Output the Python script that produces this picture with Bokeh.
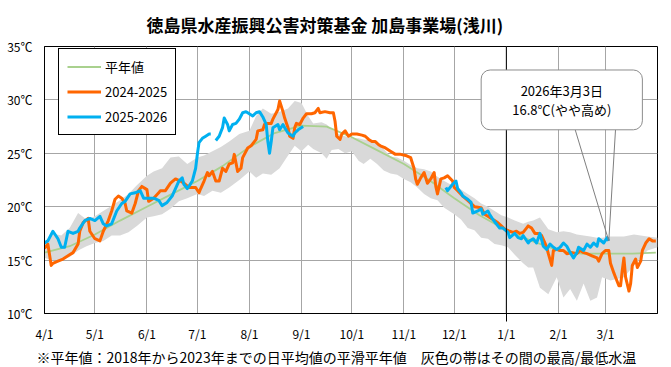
from bokeh.plotting import figure
from bokeh.models import (Range1d, FixedTicker, PrintfTickFormatter, Span, BoxAnnotation,
                          Legend, LegendItem, Title, Label)
from bokeh.embed import file_html
from bokeh.resources import INLINE

nan = float("nan")
JP = "Noto Sans CJK JP"

# ---- axis data (day offsets from 4/1) ----
month_days = [0, 30, 61, 91, 122, 153, 183, 214, 244, 275, 306, 334]
month_labels = ["4/1", "5/1", "6/1", "7/1", "8/1", "9/1", "10/1", "11/1", "12/1", "1/1", "2/1", "3/1"]
year_boundary_day = 275
y_ticks = [10, 15, 20, 25, 30, 35]

# ---- 平年値 (smoothed normal) ----
normal_days = [0, 15, 30, 45, 61, 76, 91, 106, 122, 137, 153, 168, 183, 198, 214, 229, 244,
               259, 275, 290, 306, 320, 334, 350, 364]
normal_temps = [15.7, 16.3, 17.4, 18.7, 20.0, 21.2, 22.4, 23.8, 25.6, 26.9, 27.6, 27.5, 26.5,
                25.3, 24.0, 22.5, 20.8, 19.2, 17.8, 16.8, 15.9, 15.6, 15.6, 15.6, 15.7]

# ---- min/max band 2018-2023 ----
band_days = [0, 5, 10, 15, 20, 25, 30, 35, 40, 45, 50, 55, 61, 65, 70, 75, 80, 85, 91, 95, 100,
             105, 110, 116, 122, 126, 130, 135, 140, 145, 149, 153, 157, 160, 165, 168, 171, 175,
             179, 183, 187, 190, 194, 198, 202, 206, 210, 214, 218, 222, 226, 230, 234, 238, 244,
             248, 252, 256, 260, 264, 268, 272, 276, 280, 285, 288, 291, 295, 300, 305, 309, 313,
             317, 321, 325, 329, 332, 337, 345, 351, 359, 365]
band_high = [16.6, 17.5, 17.3, 18.0, 19.4, 18.8, 19.1, 19.6, 20.1, 20.6, 21.2, 22.0, 22.9, 23.3,
             23.6, 24.6, 24.7, 24.0, 24.6, 24.8, 25.2, 25.6, 26.1, 26.8, 27.1, 28.5, 29.2, 28.7,
             28.9, 29.2, 29.9, 29.7, 28.5, 27.8, 27.9, 27.7, 27.3, 26.8, 26.6, 26.4, 26.4, 26.3,
             26.2, 26.1, 25.4, 24.7, 24.6, 24.3, 23.9, 23.6, 23.5, 23.3, 22.8, 22.4, 21.9, 21.6,
             21.2, 20.8, 20.3, 20.0, 19.6, 19.2, 19.0, 18.7, 18.4, 18.6, 18.7, 19.0, 17.9, 17.6,
             17.7, 17.6, 17.4, 17.3, 17.2, 17.1, 17.1, 17.2, 17.2, 17.4, 17.2, 17.1]
band_low = [15.2, 15.0, 15.0, 15.3, 15.9, 16.3, 16.6, 16.8, 17.3, 17.3, 17.6, 18.2, 19.0, 19.1,
            19.3, 19.8, 20.5, 20.8, 21.2, 21.0, 21.5, 21.3, 21.8, 22.5, 23.3, 22.7, 23.1, 23.0,
            23.6, 24.8, 25.7, 25.2, 25.8, 25.4, 25.0, 24.5, 25.3, 25.4, 25.0, 25.2, 24.3, 24.0,
            24.5, 24.0, 23.4, 23.1, 23.0, 22.6, 22.3, 21.8, 21.2, 20.8, 20.6, 19.9, 19.3, 18.8,
            18.0, 17.8, 17.1, 17.0, 16.5, 16.4, 16.2, 15.5, 14.7, 14.3, 14.3, 12.4, 11.8, 13.4,
            11.5, 12.3, 11.2, 12.8, 11.2, 11.5, 13.4, 13.1, 13.4, 14.5, 15.9, 16.2]

# ---- 2024-2025 ----
o_days = [0, 2, 4, 5, 8, 11, 14, 17, 20, 21, 23, 26, 27, 30, 33, 35, 38, 40, 42, 44, 46, 48, 49,
          52, 54, 56, 58, 61, 62, 65, 68, 69, 72, 75, 78, 81, 83, 86, 88, 90, 92, 93, 95, 97, 98,
          100, 102, 104, 106, 108, 110, 112, 113, 114, 115, 117, 118, 121, 123, 126, 127, 130,
          131, 133, 135, 136, 139, 140, 142, 143, 145, 146, 148, 149, 150, 152, 154, 156, 159,
          161, 163, 164, 167, 170, 172, 173, 174, 176, 177, 179, 181, 183, 186, 189, 191, 193,
          195, 197, 199, 200, 203, 206, 209, 212, 215, 218, 220, 221, 222, 224, 226, 227, 228,
          230, 232, 233, 234, 235, 236, 238, 240, 243, 244, 246, 249, 252, 256, 260, 262, 264,
          266, 268, 270, 272, 274, 277, 279, 281, 283, 285, 287, 288, 290, 292, 294, 296, 298,
          299, 300, 302, 303, 305, 307, 309, 311, 314, 317, 319, 321, 323, 326, 329, 330, 332,
          334, 336, 337, 339, 340, 342, 343, 344, 345, 346, 348, 349, 350, 352, 353, 355, 356,
          358, 360, 362, 364]
o_temps = [16.1, 16.5, 14.5, 14.7, 14.9, 15.1, 15.4, 15.7, 16.5, 17.7, 18.5, 18.9, 17.7, 17.0,
           16.8, 17.7, 18.7, 19.6, 20.7, 21.0, 20.8, 20.3, 19.6, 19.4, 20.3, 21.5, 21.9, 21.6,
           20.5, 20.8, 21.3, 21.5, 21.5, 22.2, 22.6, 22.4, 22.2, 21.8, 21.8, 21.8, 21.3, 21.7,
           22.4, 23.2, 22.9, 23.3, 22.4, 22.4, 23.6, 23.3, 24.0, 24.1, 24.9, 24.1, 23.3, 23.6,
           24.6, 25.5, 25.7, 26.3, 27.1, 27.2, 27.7, 27.8, 27.8, 28.2, 29.1, 29.9, 28.9, 28.3,
           27.4, 26.6, 26.4, 27.4, 27.8, 27.7, 28.3, 28.7, 28.7, 28.8, 29.2, 28.8, 28.9, 28.8,
           28.8, 28.0, 26.6, 26.3, 26.8, 27.1, 26.6, 26.8, 26.8, 26.7, 26.6, 26.3, 26.1, 26.1,
           25.8, 25.7, 25.5, 25.2, 24.9, 24.9, 24.8, 24.6, 23.6, 22.6, 22.1, 22.7, 23.2, 22.7,
           22.2, 22.6, 23.2, 21.9, 21.2, 21.9, 22.6, 22.7, 22.9, 22.4, 21.8, 21.5, 21.0, 20.6,
           20.0, 19.9, 19.3, 19.1, 18.9, 18.7, 18.5, 18.2, 17.9, 17.7, 17.6, 17.7, 17.5, 17.6,
           18.0, 18.2, 18.0, 17.5, 17.5, 17.3, 16.6, 16.2, 15.6, 14.5, 15.9, 16.0, 15.9, 15.9,
           15.6, 15.7, 15.6, 15.9, 15.7, 15.6, 15.4, 15.2, 14.9, 15.6, 15.9, 15.9, 14.7, 13.8,
           13.4, 12.6, 12.6, 14.0, 15.2, 13.4, 12.1, 12.8, 14.5, 15.1, 14.3, 14.9, 15.9, 16.6,
           17.0, 16.8, 16.8]

# ---- 2025-2026 (nan = no data) ----
b_days = [0, 2, 5, 8, 10, 12, 14, 17, 20, 21, 24, 27, 30, 33, 35, 37, 40, 43, 46, 48, 51, 54, 57,
          59, 61, 63, 65, 68, 70, 73, 76, 80, 82, 83, 85, 86, 88, 90, 91, 92, 94, 96, 98, 99, 100,
          102, 104, 106, 107, 109, 110, 112, 114, 116, 118, 120, 121, 124, 126, 128, 130, 132,
          133, 134, 135, 136, 139, 140, 142, 143, 145, 148, 149, 151, 154, 155,
          239, 240, 243, 245, 246, 248, 249, 252, 254, 255, 258, 260, 261, 264, 265, 267, 269,
          271, 273, 276, 277, 280, 282, 284, 285, 288, 289, 291, 293, 295, 297, 299, 301, 303,
          305, 307, 309, 311, 313, 315, 317, 318, 321, 323, 325, 327, 329, 330, 333, 335, 336]
b_temps = [16.6, 16.8, 17.7, 17.0, 16.2, 16.2, 17.7, 17.5, 17.7, 18.0, 18.7, 18.9, 18.7, 19.1,
           18.4, 18.2, 18.4, 19.6, 20.3, 20.5, 21.2, 21.3, 21.5, 20.8, 20.8, 20.8, 20.8, 20.6,
           20.1, 20.4, 21.0, 22.4, 22.7, 22.1, 21.7, 21.9, 22.4, 23.6, 24.9, 26.0, 26.4, 26.6,
           26.8, 26.8, nan, 26.2, 26.6, 27.4, 28.3, 27.7, 27.1, 27.7, 27.8, 28.2, 28.8, 28.9,
           28.8, 28.5, 28.8, 28.9, 28.4, 27.7, 26.1, 25.0, 26.1, 27.4, 27.7, 27.2, 27.7, 27.4,
           26.9, 26.6, 26.9, 27.2, 27.5, nan,
           21.8, 21.5, 22.1, 22.4, 21.7, 21.3, 21.0, 20.7, 20.4, 19.4, 19.6, 19.8, 19.3, 19.6,
           19.3, 18.8, 18.4, 18.0, 18.0, 17.6, 17.1, 17.5, 17.1, 17.0, 17.3, 16.6, 16.8, 17.0,
           16.6, 17.5, 16.3, 16.0, 16.5, 16.2, 16.0, 16.2, 16.6, 16.3, 15.7, 15.2, 15.7, 16.2,
           15.9, 16.5, 16.2, 16.6, 16.3, 17.0, 16.6, 17.1, 16.8]

series_labels = ["平年値", "2024-2025", "2025-2026"]
title_text = "徳島県水産振興公害対策基金 加島事業場(浅川)"
note_text = "※平年値：2018年から2023年までの日平均値の平滑平年値　灰色の帯はその間の最高/最低水温"
callout_date = "2026年3月3日"
callout_note = "(やや高め)"

# ---- figure ----
p = figure(width=671, height=367, output_backend="svg", toolbar_location=None,
           x_range=Range1d(0, 365), y_range=Range1d(10, 35),
           min_border_left=44, min_border_right=14, min_border_top=45, min_border_bottom=54)
p.outline_line_color = "black"
p.outline_line_alpha = 1
p.outline_line_width = 1
p.background_fill_color = "white"

p.xgrid.ticker = FixedTicker(ticks=month_days)
p.ygrid.ticker = FixedTicker(ticks=y_ticks)
p.grid.grid_line_color = "#a6a6a6"
p.grid.grid_line_width = 1

xa = p.xaxis[0]
xa.ticker = FixedTicker(ticks=month_days, minor_ticks=[year_boundary_day])
xa.major_label_overrides = {d: l for d, l in zip(month_days, month_labels)}
xa.major_tick_line_color = None
xa.major_tick_out = 0
xa.major_tick_in = 0
xa.minor_tick_line_color = "black"
xa.minor_tick_out = 8
xa.minor_tick_in = 0
xa.major_label_standoff = 3
xa.axis_line_color = "black"

ya = p.yaxis[0]
ya.ticker = FixedTicker(ticks=y_ticks)
ya.formatter = PrintfTickFormatter(format="%d℃")
ya.major_tick_out = 0
ya.major_tick_in = 0
ya.minor_tick_line_color = None
ya.major_tick_line_color = None
ya.major_label_standoff = 12
ya.axis_line_color = "black"

for ax in (xa, ya):
    ax.major_label_text_font = JP
    ax.major_label_text_font_size = "12px"
    ax.major_label_text_color = "black"

p.title.text = title_text
p.title.align = "left"
p.title.offset = 102
p.title.text_font = JP
p.title.text_font_size = "17px"
p.title.text_font_style = "bold"
p.title.text_color = "black"
p.title.standoff = 19

# ---- data ----
p.varea(x=band_days, y1=band_low, y2=band_high, fill_color="#d9d9d9", fill_alpha=1)
r_norm = p.line(normal_days, normal_temps, line_color="#a9d18e", line_width=1.8)
r_o = p.line(o_days, o_temps, line_color="#ff6600", line_width=3, line_join="round")
r_b = p.line(b_days, b_temps, line_color="#00b0f0", line_width=3, line_join="round")

p.add_layout(Span(location=year_boundary_day, dimension="height", line_color="black", line_width=1))

# ---- callout ----
tip_day, tip_temp = b_days[-1], b_temps[-1]
box_l, box_r, box_b, box_t = 260, 356, 27.2, 32.8
p.line([316, tip_day, 340], [box_b, tip_temp, box_b], line_color="#7f7f7f", line_width=1)
p.add_layout(BoxAnnotation(left=box_l, right=box_r, bottom=box_b, top=box_t,
                           fill_color="white", fill_alpha=1, line_color="#8c8c8c",
                           line_alpha=1, line_width=1, border_radius=9))
cx = (box_l + box_r) / 2
p.add_layout(Label(x=cx, y=30.85, text=callout_date, text_align="center",
                   text_baseline="middle", text_font=JP, text_font_size="13px",
                   text_color="black"))
p.add_layout(Label(x=cx, y=29.1, text=f"{tip_temp}℃{callout_note}", text_align="center",
                   text_baseline="middle", text_font=JP, text_font_size="13px",
                   text_color="black"))

# ---- legend ----
legend = Legend(items=[LegendItem(label=series_labels[0], renderers=[r_norm]),
                       LegendItem(label=series_labels[1], renderers=[r_o]),
                       LegendItem(label=series_labels[2], renderers=[r_b])],
                location=(14, 178))
legend.border_line_color = "black"
legend.border_line_alpha = 1
legend.border_line_width = 1
legend.background_fill_color = "white"
legend.background_fill_alpha = 1
legend.padding = 8
legend.margin = 0
legend.spacing = 6
legend.label_height = 17
legend.glyph_height = 17
legend.glyph_width = 34
legend.label_standoff = 4
legend.label_text_font = JP
legend.label_text_font_size = "13px"
legend.label_text_color = "black"
p.add_layout(legend)

p.add_layout(Title(text=note_text, align="left", offset=-8, text_font=JP,
                   text_font_size="14px", text_font_style="normal", text_color="black",
                   standoff=1), "below")

open("out.html", "w").write(file_html(p, INLINE))
